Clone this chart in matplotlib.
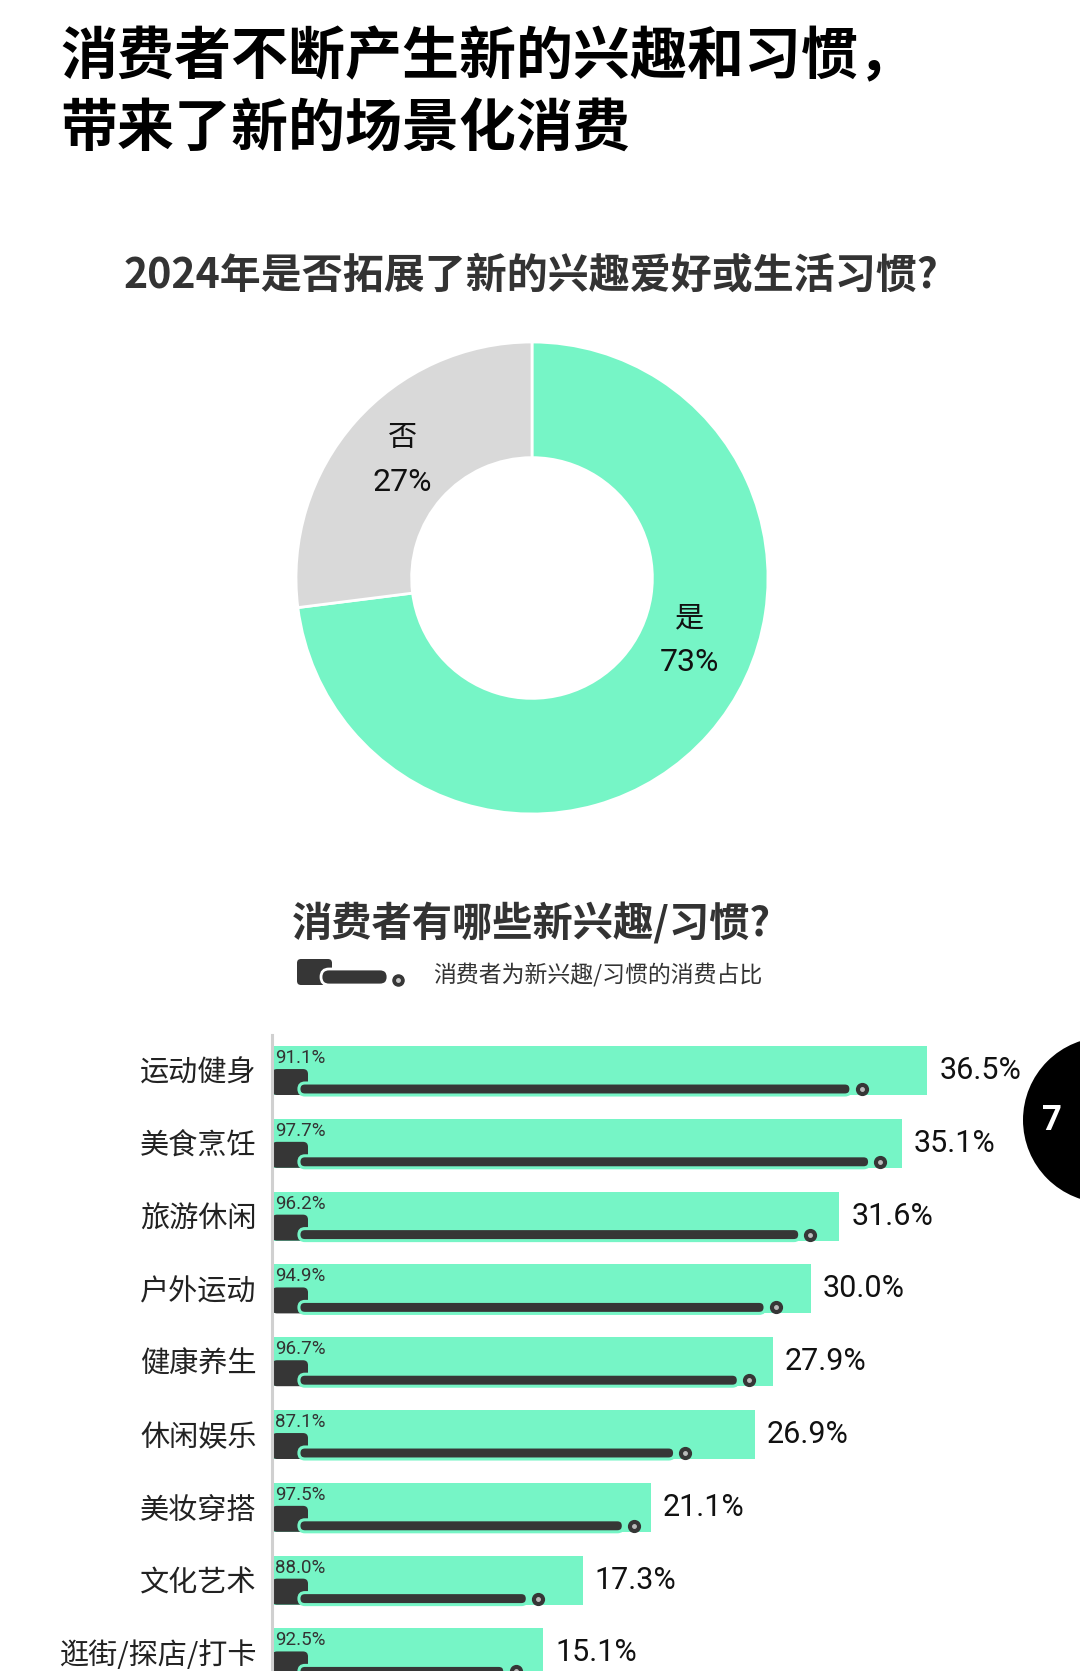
import matplotlib
matplotlib.use("Agg")
import matplotlib.pyplot as plt
from matplotlib.patches import FancyBboxPatch, Circle
import numpy as np

plt.rcParams['font.family'] = ['Noto Sans CJK SC', 'DejaVu Sans']

# ---- data ----
pie_labels = ['是', '否']
pie_values = [73, 27]

categories = ['运动健身', '美食烹饪', '旅游休闲', '户外运动', '健康养生',
              '休闲娱乐', '美妆穿搭', '文化艺术', '逛街/探店/打卡']
share = [36.5, 35.1, 31.6, 30.0, 27.9, 26.9, 21.1, 17.3, 15.1]
spend_ratio = [91.1, 97.7, 96.2, 94.9, 96.7, 87.1, 97.5, 88.0, 92.5]

GREEN = '#76f5c6'
GREY = '#d9d9d9'
DARK = '#363636'
NUM_FONT = ['Roboto', 'Noto Sans CJK SC']

W, H = 1080, 1671
fig = plt.figure(figsize=(W / 100, H / 100), dpi=100)


def fx(px):
    return px / W


def fy(py):
    return 1 - py / H


# ---- titles ----
fig.text(fx(60), fy(57), '消费者不断产生新的兴趣和习惯，', fontsize=41,
         fontweight='bold', color='black', va='center', ha='left')
fig.text(fx(60), fy(130), '带来了新的场景化消费', fontsize=41,
         fontweight='bold', color='black', va='center', ha='left')
fig.text(fx(531), fy(276), '2024年是否拓展了新的兴趣爱好或生活习惯?', fontsize=29.5,
         fontweight='bold', color='#333333', va='center', ha='center')

# ---- donut ----
cx, cy, R = 532, 578, 236
pax = fig.add_axes([fx(cx - R), fy(cy + R), 2 * R / W, 2 * R / H])
pax.pie(pie_values, colors=[GREEN, GREY], startangle=90, counterclock=False,
        radius=1, wedgeprops=dict(width=0.49, edgecolor='white', linewidth=2))
pax.set_xlim(-1, 1)
pax.set_ylim(-1, 1)
pax.set_aspect('equal')
pax.axis('off')
label_pos = [(-22, 0.72), (138, 0.74)]  # (angle deg, radius) per slice
for lab, val, (ang, rr) in zip(pie_labels, pie_values, label_pos):
    x = rr * np.cos(np.radians(ang))
    y = rr * np.sin(np.radians(ang))
    pax.text(x, y + 0.1, lab, fontsize=21, ha='center', va='center', color='#111111')
    pax.text(x, y - 0.09, f'{val}%', fontsize=23, ha='center', va='center',
             color='#111111', family=NUM_FONT)

# ---- bar chart ----
fig.text(fx(531), fy(924), '消费者有哪些新兴趣/习惯?', fontsize=29,
         fontweight='bold', color='#333333', va='center', ha='center')

# legend icon (pixel-like coords)
lax = fig.add_axes([fx(290), fy(995), 130 / W, 45 / H])
lax.set_xlim(290, 420)
lax.set_ylim(995, 950)
lax.axis('off')
lax.add_patch(FancyBboxPatch((297, 959), 35, 26, boxstyle='round,pad=0,rounding_size=4',
                             fc=DARK, ec='none'))
lax.add_patch(FancyBboxPatch((321, 969), 67, 16, boxstyle='round,pad=0,rounding_size=8',
                             fc=DARK, ec='white', lw=2))
lax.plot([398], [980], 'o', ms=8, color=DARK)
lax.plot([398], [980], 'o', ms=2.5, color='#cccccc')
fig.text(fx(433), fy(975), '消费者为新兴趣/习惯的消费占比', fontsize=16.5,
         color='#333333', va='center', ha='left')

x0_px, sx, sy = 272, 17.95, 72.8
ax = fig.add_axes([fx(x0_px), 0, (W - x0_px) / W, (H - 1035) / H])
ax.set_xlim(0, (W - x0_px) / sx)
ax.set_ylim((H - 1070.5) / sy, (1035 - 1070.5) / sy)
ypos = np.arange(len(categories))
bh = 49 / sy
ax.barh(ypos, share, height=bh, color=GREEN, zorder=1)

asp = sx / sy
for i, (v, r) in enumerate(zip(share, spend_ratio)):
    end = v * r / 100
    top = i - bh / 2
    bot = i + bh / 2
    # small block
    ax.add_patch(FancyBboxPatch((0, i - 0.02), 36 / sx, bot - (i - 0.02),
                                boxstyle=f'round,pad=0,rounding_size={5 / sx}',
                                mutation_aspect=asp, fc=DARK, ec='none', zorder=2))
    # long bar
    dot_x = end - 0.4
    bar_h = 12 / sy
    ax.add_patch(FancyBboxPatch((1.5, bot - bar_h), dot_x - 0.6 - 1.5, bar_h,
                                boxstyle=f'round,pad=0,rounding_size={6 / sx}',
                                mutation_aspect=asp, fc=DARK, ec=GREEN, lw=2.2, zorder=3))
    ax.plot([dot_x], [bot - bar_h / 2], 'o', ms=8.5, color=DARK, zorder=4)
    ax.plot([dot_x], [bot - bar_h / 2], 'o', ms=2.5, color='#bbbbbb', zorder=5)
    ax.text(3 / sx, top + 3 / sy, f'{r:.1f}%', fontsize=13.5, color='#333333',
            ha='left', va='top', family=NUM_FONT, zorder=6)
    ax.text(v + 12 / sx, i, f'{v:.1f}%', fontsize=22, color='#111111',
            ha='left', va='center', family=NUM_FONT)

ax.set_yticks(ypos)
ax.set_yticklabels(categories, fontsize=21, color='#222222')
ax.tick_params(axis='y', length=0, pad=11)
ax.set_xticks([])
for s in ['top', 'right', 'bottom']:
    ax.spines[s].set_visible(False)
ax.spines['left'].set_color('#d0d0d0')
ax.spines['left'].set_linewidth(2.2)
ax.patch.set_alpha(0)

# page marker circle
fig.patches.append(Circle((1106 / 100, (H - 1120) / 100), 0.83, fc='black', ec='none',
                          transform=fig.dpi_scale_trans, zorder=10))
fig.text(fx(1052), fy(1120), '7', fontsize=25, fontweight='bold', color='white',
         ha='center', va='center', zorder=11, family=NUM_FONT)

fig.savefig('out.png', dpi=100, facecolor='white')
